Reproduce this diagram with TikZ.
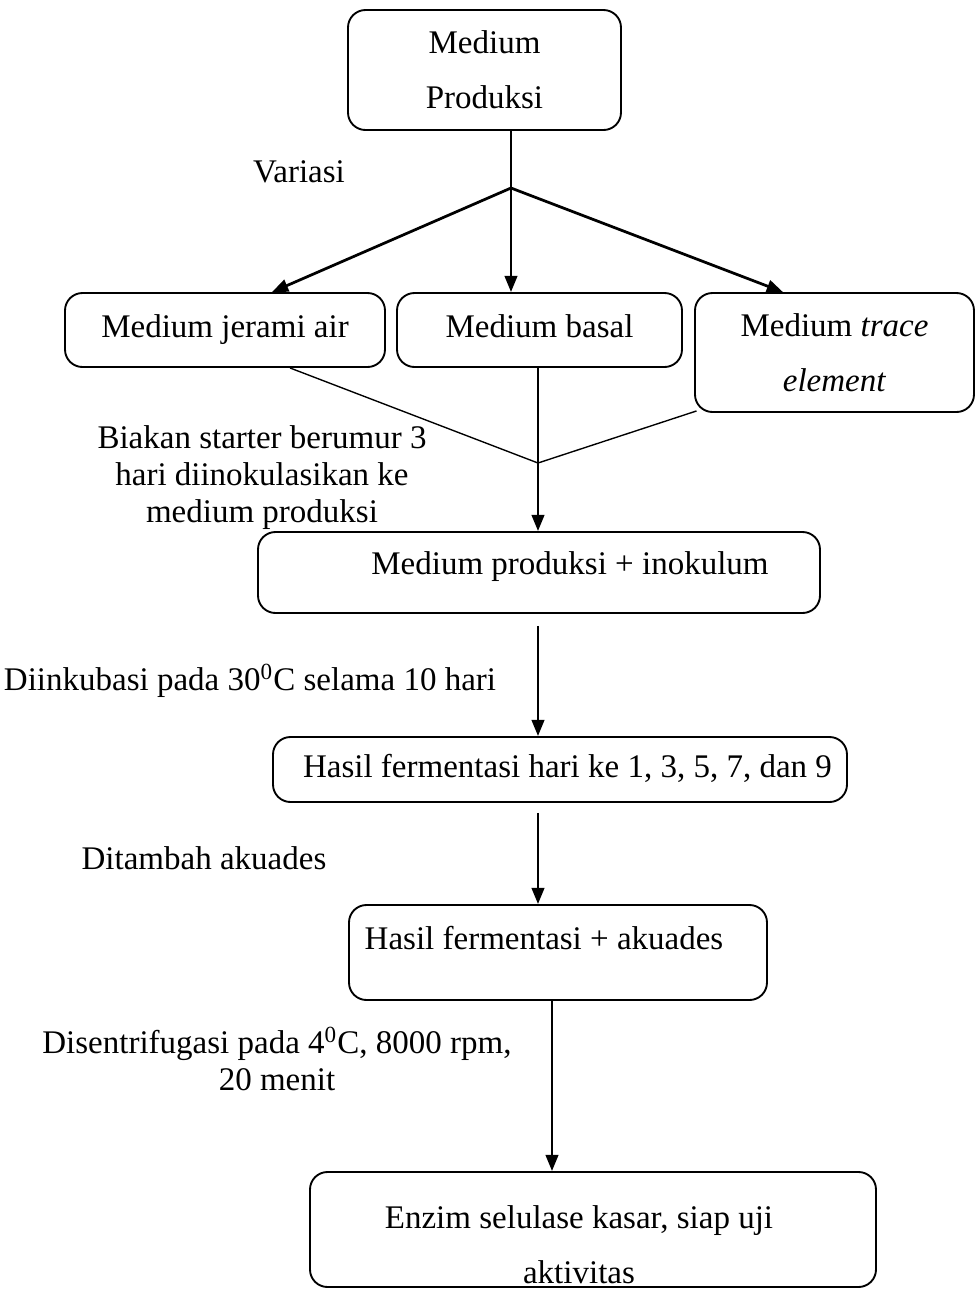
\documentclass[tikz,border=0pt]{standalone}
\usepackage{fontspec}
\setmainfont{Liberation Serif}
\usetikzlibrary{arrows.meta}

\tikzset{
  kotak/.style={draw, rounded corners=7pt, line width=0.75pt, align=center,
    inner sep=0pt, font=\fontsize{13.2}{22}\selectfont},
  satu/.style={text height=9pt, text depth=3pt},
  panah/.style={-{Triangle[length=6.5pt,width=5pt]}, line width=1.1pt},
  garis/.style={line width=0.55pt},
  ket/.style={align=center, inner sep=0pt, font=\fontsize{13.2}{14.8}\selectfont}
}

\begin{document}
\begin{tikzpicture}[x=0.4pt,y=-0.4pt]% 1 unit = 1 px of the scan
\useasboundingbox (0,0) rectangle (976,1289);
% kotak-kotak
\node[kotak, minimum width=109.2pt, minimum height=48pt] (atas) at (484.5,70) {Medium\\Produksi};
\node[kotak, satu, minimum width=128pt, minimum height=29.6pt] (jerami) at (225,330) {Medium jerami air};
\node[kotak, satu, minimum width=114pt, minimum height=29.6pt] (basal) at (539.5,330) {Medium basal};
\node[kotak, minimum width=111.6pt, minimum height=47.6pt] (trace) at (834.5,352.5) {Medium \textit{trace}\\\textit{element}};
\node[kotak, minimum width=224.8pt, minimum height=32.4pt] (prod) at (539,572.5) {};
\node[ket, satu] (prodtxt) at (570,567) {Medium produksi + inokulum};
\node[kotak, satu, minimum width=229.6pt, minimum height=26pt] (hasil) at (560,769.5) {\hspace*{6pt}Hasil fermentasi hari ke 1, 3, 5, 7, dan 9};
\node[kotak, minimum width=167.2pt, minimum height=38pt] (akuades) at (558,952.5) {};
\node[ket, satu] (akuadestxt) at (544,942) {Hasil fermentasi + akuades};
\node[kotak, minimum width=226.4pt, minimum height=46pt] (enzim) at (593,1229.5) {};
\node[kotak, draw=none] (enzimtxt) at (579,1245) {Enzim selulase kasar, siap uji\\aktivitas};
% keterangan
\node[ket] (variasi) at (299,172) {Variasi};
\node[ket] (biakan) at (262,478) {Biakan starter berumur 3\\hari diinokulasikan ke\\medium produksi};
\node[ket] (inkubasi) at (250,681) {Diinkubasi pada 30\textsuperscript{0}C selama 10 hari};
\node[ket] (tambah) at (204,858) {Ditambah akuades};
\node[ket] (sentri) at (277,1059) {Disentrifugasi pada 4\textsuperscript{0}C, 8000 rpm,\\20 menit};
% garis
\coordinate (pisah) at (511,188);
\coordinate (gabung) at (538,463);
\draw[garis] (atas.south -| pisah) -- (pisah);
\draw[panah] (pisah) -- ([xshift=18.8pt]jerami.north);
\draw[panah] (pisah) -- (basal.north -| pisah);
\draw[panah] (pisah) -- ([xshift=-20.6pt]trace.north);
\draw[garis] ([xshift=26pt]jerami.south) -- (gabung);
\draw[garis] (basal.south -| gabung) -- (gabung);
\draw[garis] ([shift={(1pt,0.8pt)}]trace.south west) -- (gabung);
\draw[panah] (gabung) -- (prod.north -| gabung);
\draw[panah] (prod.south -| gabung) ++(0,12) -- (hasil.north -| gabung);
\draw[panah] (hasil.south -| gabung) ++(0,10) -- (akuades.north -| gabung);
\draw[panah] ([xshift=-2.4pt]akuades.south) -- ([xshift=-2.4pt]akuades.south |- enzim.north);
\end{tikzpicture}
\end{document}
